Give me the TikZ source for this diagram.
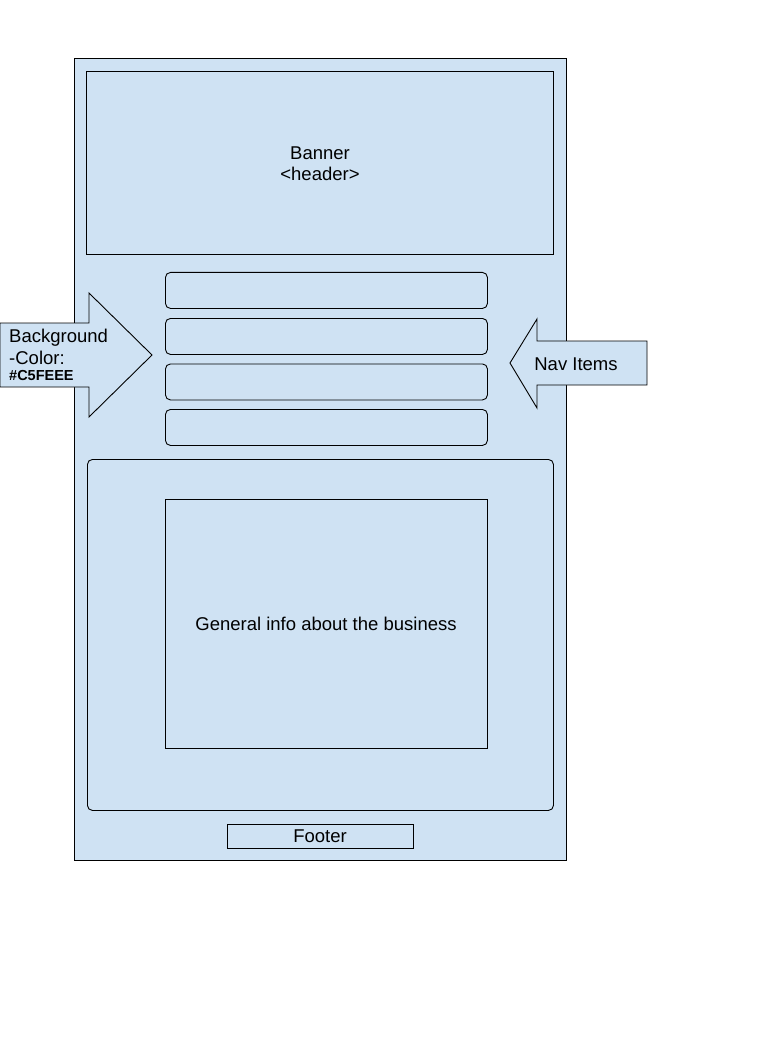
\documentclass[tikz,border=0pt]{standalone}
\usepackage{fontspec}
\setmainfont{Liberation Sans}
\definecolor{boxfill}{HTML}{CFE2F3}
\definecolor{ink}{HTML}{000000}
\begin{document}
\begin{tikzpicture}[x=1pt,y=-1pt,
  boxline/.style={draw=ink,fill=boxfill,line width=0.9pt},
  sq/.style={boxline,inner sep=0pt,anchor=north west},
  rnd/.style={sq,rounded corners=5pt},
  lbl/.style={font=\fontsize{18.5}{22}\selectfont,text=ink,align=center,inner sep=0pt},
  lft/.style={lbl,anchor=base west}]
\useasboundingbox (0,0) rectangle (768,1056);
% outer page
\node[sq,minimum width=492pt,minimum height=802pt] (page) at (74,58) {};
% banner
\node[sq,minimum width=467pt,minimum height=183pt] (banner) at (86,71) {};
\node[lbl,anchor=base] (bannertxt) at (320,159.5) {Banner};
\node[lbl,anchor=base] (headertxt) at (320,181) {\textless header\textgreater};
% nav items
\node[rnd,minimum width=322pt,minimum height=36pt] (nav1) at (165,272) {};
\node[rnd,minimum width=322pt,minimum height=36pt] (nav2) at (165,318) {};
\node[rnd,minimum width=322pt,minimum height=36pt] (nav3) at (165,363.5) {};
\node[rnd,minimum width=322pt,minimum height=36pt] (nav4) at (165,409) {};
% content
\node[rnd,minimum width=466pt,minimum height=351pt] (content) at (87,459) {};
\node[sq,minimum width=322pt,minimum height=249pt] (info) at (165,499) {};
\node[lbl,anchor=base] (infotxt) at (326,630.5) {General info about the business};
% footer
\node[sq,minimum width=186pt,minimum height=23.5pt] (footer) at (227,824) {};
\node[lbl,anchor=base] (footertxt) at (320,842.5) {Footer};
% left arrow
\draw[boxline] (0,323) -- (89,323) -- (89,293) -- (152,355) -- (89,417) -- (89,387) -- (0,387) -- cycle;
\node[lft] (bgtxt1) at (9,342.5) {Background};
\node[lft] (bgtxt2) at (9,364.5) {-Color:};
\node[lft,font=\fontsize{14.5}{17}\selectfont\bfseries] (bgtxt3) at (9,380) {\#C5FEEE};
% right arrow
\draw[boxline] (647,341) -- (537,341) -- (537,319) -- (510,363) -- (537,408) -- (537,385) -- (647,385) -- cycle;
\node[lbl,anchor=base] (navtxt) at (576,370) {Nav Items};
\end{tikzpicture}
\end{document}
